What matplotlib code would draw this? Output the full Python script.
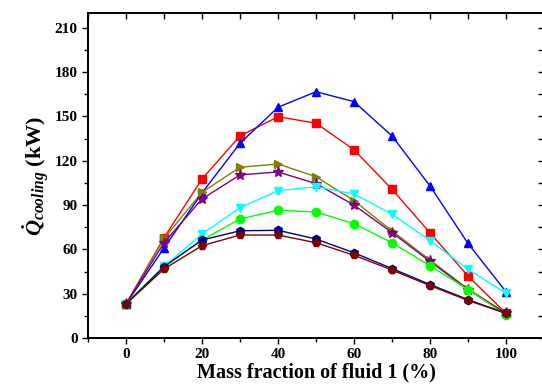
import matplotlib
matplotlib.use('Agg')
import matplotlib.pyplot as plt
from matplotlib.ticker import MultipleLocator

plt.rcParams['font.family'] = 'Liberation Serif'
plt.rcParams['font.weight'] = 'bold'
plt.rcParams['mathtext.fontset'] = 'custom'
plt.rcParams['mathtext.rm'] = 'Liberation Serif:bold'
plt.rcParams['mathtext.it'] = 'Liberation Serif:italic:bold'
plt.rcParams['mathtext.bf'] = 'Liberation Serif:bold'
plt.rcParams['mathtext.bfit'] = 'Liberation Serif:italic:bold'

x = [0, 10, 20, 30, 40, 50, 60, 70, 80, 90, 100]

red = [23, 67.9, 107.6, 136.8, 149.8, 145.4, 127.4, 100.7, 71.1, 42, 16.7]
blue = [23, 60.9, 98.2, 131.8, 156.2, 166.7, 160, 136.8, 102.9, 64, 31.3]
olive = [23, 67.4, 98.6, 115.6, 117.8, 109.2, 93, 72.5, 52.8, 33.2, 16.7]
purple = [23, 64.5, 94.1, 110.4, 112.4, 104.5, 90, 71.4, 51.8, 32.8, 16.7]
cyan = [23, 48.5, 70.4, 88.2, 99.7, 102.4, 97.5, 83.9, 65.9, 46.5, 30.3]
green = [23, 48.3, 66.3, 80.6, 86.5, 85.3, 77.4, 64.5, 48.9, 32.8, 15.6]
navy = [23, 48.3, 66.3, 72.6, 72.9, 67, 57.7, 47, 36.2, 26, 16.7]
maroon = [23, 46.7, 62.5, 69.7, 69.7, 64.5, 56, 46, 35.5, 25.4, 16.7]

series = [
    (red, '#FF0000', 's'),
    (blue, '#0000FF', '^'),
    (olive, '#808000', '>'),
    (purple, '#800080', '*'),
    (cyan, '#00FFFF', 'v'),
    (green, '#00FF00', 'o'),
    (navy, '#000080', 'h'),
    (maroon, '#800000', 'p'),
]

fig = plt.figure(figsize=(5.42, 3.87), dpi=100)
ax = fig.add_axes([88/542, 49/387, 456/542, 325/387])

for vals, col, mk in series:
    ms = 8 if mk == '*' else 6
    ax.plot(x, vals, color=col, marker=mk, markersize=ms, linewidth=1)

ax.set_xlim(-10, 110)
ax.set_ylim(0, 220)
ax.xaxis.set_major_locator(MultipleLocator(20))
ax.xaxis.set_minor_locator(MultipleLocator(10))
ax.yaxis.set_major_locator(MultipleLocator(30))
ax.yaxis.set_minor_locator(MultipleLocator(15))

ax.tick_params(which='both', direction='out', top=False, right=False,
               labelsize=11, width=1)
ax.tick_params(which='major', length=4)
ax.tick_params(which='minor', length=3)
for side in ['left', 'bottom', 'top', 'right']:
    ax.spines[side].set_linewidth(1.2)

# mirror ticks (inward) on top and right
axt = ax.twiny()
axt.set_xlim(ax.get_xlim())
axt.set_xticks(range(-10, 111, 10))
axt.tick_params(direction='in', length=4, labeltop=False, width=1)
axr = ax.twinx()
axr.set_ylim(ax.get_ylim())
axr.set_yticks(range(0, 221, 15))
axr.tick_params(direction='in', length=4, labelright=False, width=1)
for a in (axt, axr):
    for side in ['left', 'bottom', 'top', 'right']:
        a.spines[side].set_linewidth(1.2)

for lbl in ax.get_xticklabels() + ax.get_yticklabels():
    lbl.set_fontweight('bold')

ax.set_xlabel('Mass fraction of fluid 1 (%)', fontsize=14.5, fontweight='bold', labelpad=1)
ax.set_ylabel(r'$\dot{\mathbfit{Q}}_{\mathbfit{cooling}}$ (kW)', fontsize=16,
              fontweight='bold', labelpad=2)

fig.savefig('out.png', dpi=100)
